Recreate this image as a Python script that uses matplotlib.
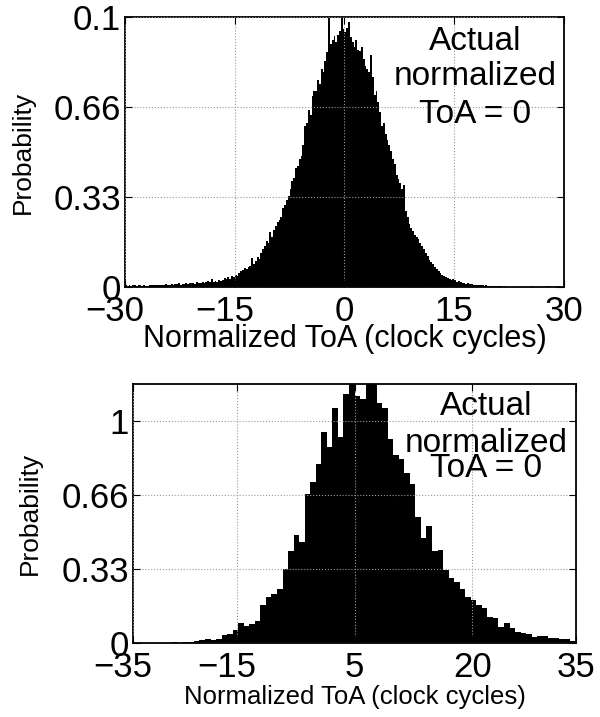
import numpy as np
import matplotlib.pyplot as plt
from matplotlib.transforms import ScaledTranslation

plt.rcParams['font.family'] = ['Liberation Sans', 'DejaVu Sans']

# top panel: probability per 0.25-cycle bin, from -30 to 30
top_range = (-30, 30)
top_heights = [
    0.006, 0.004, 0.007, 0.005, 0.006, 0.008, 0.005, 0.006,
    0.007, 0.005, 0.006, 0.004, 0.005, 0.007, 0.006, 0.008,
    0.006, 0.009, 0.007, 0.006, 0.008, 0.007, 0.010, 0.008,
    0.009, 0.011, 0.008, 0.010, 0.010, 0.013, 0.009, 0.012,
    0.011, 0.014, 0.012, 0.016, 0.013, 0.015, 0.012, 0.017,
    0.016, 0.014, 0.019, 0.015, 0.018, 0.021, 0.017, 0.030,
    0.019, 0.022, 0.018, 0.024, 0.023, 0.027, 0.033, 0.028,
    0.035, 0.030, 0.040, 0.036, 0.044, 0.040, 0.050, 0.058,
    0.062, 0.070, 0.066, 0.074, 0.078, 0.105, 0.085, 0.095,
    0.110, 0.104, 0.125, 0.140, 0.150, 0.170, 0.160, 0.200,
    0.185, 0.210, 0.225, 0.240, 0.245, 0.255, 0.290, 0.300,
    0.320, 0.335, 0.360, 0.390, 0.400, 0.435, 0.445, 0.470,
    0.480, 0.520, 0.590, 0.600, 0.650, 0.630, 0.700, 0.720,
    0.720, 0.760, 0.745, 0.800, 0.790, 0.830, 0.860, 0.985,
    0.890, 0.905, 0.920, 0.900, 0.925, 0.940, 0.990, 0.945,
    0.935, 0.950, 0.970, 0.915, 0.900, 0.880, 0.905, 0.870,
    0.865, 0.880, 0.835, 0.810, 0.800, 0.790, 0.850, 0.770,
    0.705, 0.720, 0.680, 0.640, 0.590, 0.600, 0.560, 0.540,
    0.520, 0.500, 0.470, 0.450, 0.410, 0.395, 0.380, 0.360,
    0.375, 0.280, 0.255, 0.230, 0.215, 0.205, 0.190, 0.185,
    0.175, 0.160, 0.150, 0.140, 0.125, 0.115, 0.100, 0.090,
    0.085, 0.075, 0.065, 0.060, 0.052, 0.045, 0.040, 0.036,
    0.032, 0.030, 0.027, 0.029, 0.024, 0.020, 0.022, 0.018,
    0.016, 0.014, 0.012, 0.013, 0.010, 0.011, 0.009, 0.008,
    0.007, 0.008, 0.006, 0.007, 0.005, 0.006, 0.004, 0.005,
    0.004, 0.003, 0.004, 0.002, 0.003, 0.002, 0.001, 0.002,
    0.001, 0.000, 0.001, 0.000, 0.000, 0.000, 0.000, 0.000,
    0.000, 0.000, 0.000, 0.000, 0.000, 0.000, 0.002, 0.000,
    0.000, 0.002, 0.000, 0.000, 0.000, 0.000, 0.002, 0.000,
    0.002, 0.000, 0.000, 0.002, 0.000, 0.002, 0.000, 0.000,
]
top_xticks = [-30, -15, 0, 15, 30]
top_xticklabels = ['\u221230', '\u221215', '0', '15', '30']
top_yticks = [0, 0.33, 0.66, 0.99]
top_yticklabels = ['0', '0.33', '0.66', '0.1']

# bottom panel: 80 bins across the axis
bottom_range = (-35, 35)
bottom_heights = [
    0.000, 0.000, 0.000, 0.000, 0.002, 0.000, 0.002, 0.003,
    0.002, 0.004, 0.005, 0.007, 0.014, 0.018, 0.014, 0.016,
    0.036, 0.040, 0.058, 0.090, 0.076, 0.085, 0.098, 0.170,
    0.205, 0.220, 0.240, 0.330, 0.410, 0.480, 0.450, 0.665,
    0.720, 0.800, 0.940, 0.875, 1.050, 0.920, 1.110, 1.180,
    1.100, 1.090, 1.200, 1.190, 1.070, 1.050, 0.910, 0.840,
    0.820, 0.760, 0.710, 0.560, 0.470, 0.520, 0.410, 0.415,
    0.325, 0.290, 0.270, 0.240, 0.205, 0.190, 0.170, 0.155,
    0.117, 0.110, 0.072, 0.087, 0.067, 0.050, 0.045, 0.040,
    0.027, 0.030, 0.030, 0.022, 0.024, 0.020, 0.020, 0.010,
]
bottom_xticks = [-35, -18.6, 0, 18.6, 35]
bottom_xticklabels = ['\u221235', '\u221215', '5', '20', '35']
bottom_yticks = [0, 0.33, 0.66, 0.99]
bottom_yticklabels = ['0', '0.33', '0.66', '1']

note_lines = ['Actual', 'normalized', 'ToA = 0']
xlabel = 'Normalized ToA (clock cycles)'
ylabel = 'Probability'


def style_axes(ax, tick_size):
    for s in ax.spines.values():
        s.set_linewidth(1.3)
    ax.tick_params(direction='in', length=5, width=0.8, top=True, right=True,
                   labelsize=tick_size)
    ax.tick_params(axis='x', pad=6)
    ax.tick_params(axis='y', pad=3)
    ax.grid(True, linestyle=':', color='#999999', linewidth=0.8)
    ax.set_axisbelow(False)
    # digits sit on the tick, the minus sign hangs to the left
    shift = ScaledTranslation(-0.10, 0, fig.dpi_scale_trans)
    for lab in ax.get_xticklabels():
        if lab.get_text().startswith('\u2212'):
            lab.set_transform(lab.get_transform() + shift)


fig = plt.figure(figsize=(6.0, 7.17), dpi=100)

# top histogram
ax1 = fig.add_axes([0.2083, 0.5997, 0.7317, 0.3766])
edges1 = np.linspace(top_range[0], top_range[1], len(top_heights) + 1)
ax1.stairs(top_heights, edges1, fill=True, color='black', zorder=1)
ax1.set_xlim(*top_range)
ax1.set_ylim(0, 0.99)
ax1.set_xticks(top_xticks, top_xticklabels)
ax1.set_yticks(top_yticks, top_yticklabels)
style_axes(ax1, 25)
ax1.set_xlabel(xlabel, fontsize=22)
ax1.xaxis.set_label_coords(0.5, -0.137)
ax1.set_ylabel(ylabel, fontsize=19)
ax1.yaxis.set_label_coords(-0.205, 0.5)
for line, yy in zip(note_lines, [0.878, 0.748, 0.607]):
    ax1.text(0.797, yy, line, transform=ax1.transAxes, ha='center',
             va='baseline', fontsize=24)

# bottom histogram
ax2 = fig.add_axes([0.2217, 0.1032, 0.7383, 0.3612])
edges2 = np.linspace(bottom_range[0], bottom_range[1], len(bottom_heights) + 1)
ax2.stairs(bottom_heights, edges2, fill=True, color='black', zorder=1)
ax2.set_xlim(*bottom_range)
ax2.set_ylim(0, 1.155)
ax2.set_xticks(bottom_xticks, bottom_xticklabels)
ax2.set_yticks(bottom_yticks, bottom_yticklabels)
style_axes(ax2, 25)
ax2.set_xlabel(xlabel, fontsize=18.5)
ax2.xaxis.set_label_coords(0.5, -0.162)
ax2.set_ylabel(ylabel, fontsize=19)
ax2.yaxis.set_label_coords(-0.205, 0.5)
for line, yy in zip(note_lines, [0.880, 0.737, 0.641]):
    ax2.text(0.797, yy, line, transform=ax2.transAxes, ha='center',
             va='baseline', fontsize=24)

fig.savefig('out.png', dpi=100)
